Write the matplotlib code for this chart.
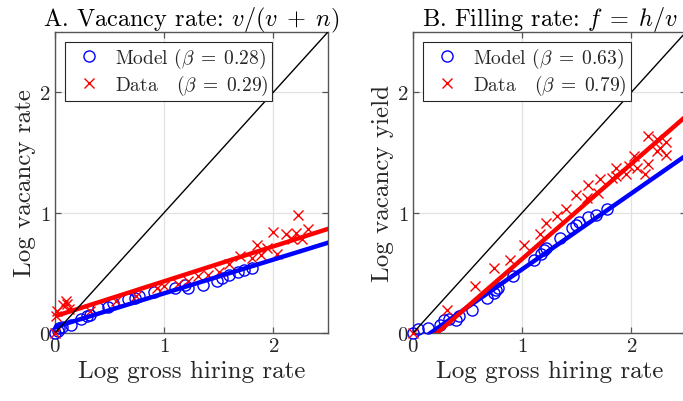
import numpy as np
import matplotlib
matplotlib.use("Agg")
import matplotlib.pyplot as plt

plt.rcParams.update({
    "font.family": "serif",
    "font.serif": ["cmr10"],
    "mathtext.fontset": "cm",
    "axes.formatter.use_mathtext": True,
    "axes.unicode_minus": False,
})

# Panel A: vacancy rate
xA_model = [0.00, 0.03, 0.04, 0.06, 0.15, 0.24, 0.29, 0.32, 0.39, 0.49, 0.53,
            0.67, 0.73, 0.77, 0.91, 1.10, 1.19, 1.22, 1.36, 1.48, 1.53, 1.59,
            1.68, 1.73, 1.80]
yA_model = [0.00, 0.02, 0.04, 0.05, 0.07, 0.12, 0.14, 0.15, 0.21, 0.22, 0.25,
            0.28, 0.29, 0.31, 0.34, 0.37, 0.40, 0.37, 0.40, 0.43, 0.46, 0.48,
            0.51, 0.52, 0.54]
xA_data = [0.00, 0.01, 0.015, 0.07, 0.10, 0.11, 0.13, 0.32, 0.56, 0.74, 0.93,
           1.00, 1.13, 1.22, 1.31, 1.40, 1.50, 1.59, 1.69, 1.80, 1.85, 1.89,
           1.94, 2.00, 2.03, 2.12, 2.17, 2.21, 2.23, 2.26, 2.32]
yA_data = [0.00, 0.14, 0.18, 0.23, 0.27, 0.24, 0.20, 0.18, 0.27, 0.31, 0.37,
           0.39, 0.41, 0.43, 0.47, 0.48, 0.51, 0.57, 0.64, 0.62, 0.73, 0.65,
           0.71, 0.84, 0.66, 0.82, 0.78, 0.83, 0.98, 0.78, 0.86]

# Panel B: filling rate
xB_model = [0.00, 0.05, 0.14, 0.25, 0.28, 0.33, 0.39, 0.42, 0.54, 0.68, 0.74,
            0.76, 0.78, 0.92, 1.11, 1.17, 1.20, 1.22, 1.35, 1.46, 1.49, 1.52,
            1.60, 1.68, 1.78]
yB_model = [0.00, 0.03, 0.04, 0.07, 0.11, 0.12, 0.11, 0.14, 0.19, 0.29, 0.33,
            0.36, 0.37, 0.47, 0.61, 0.66, 0.69, 0.71, 0.79, 0.87, 0.90, 0.92,
            0.96, 0.98, 1.03]
xB_data = [0.00, 0.31, 0.57, 0.74, 0.89, 1.02, 1.16, 1.22, 1.32, 1.40, 1.49,
           1.59, 1.60, 1.69, 1.71, 1.82, 1.86, 1.86, 1.95, 1.98, 2.02, 2.05,
           2.12, 2.15, 2.15, 2.23, 2.23, 2.26, 2.32, 2.32]
yB_data = [0.00, 0.19, 0.39, 0.54, 0.61, 0.73, 0.82, 0.91, 0.97, 1.03, 1.15,
           1.12, 1.23, 1.16, 1.28, 1.29, 1.37, 1.30, 1.32, 1.39, 1.47, 1.37,
           1.32, 1.40, 1.64, 1.61, 1.51, 1.54, 1.59, 1.48]

# Fitted lines: (slope, intercept)
fitA_model = (0.28, 0.05)
fitA_data = (0.29, 0.14)
fitB_model = (0.63, -0.10)
fitB_data = (0.79, -0.174)

panels = [
    dict(title=r"A. Vacancy rate: $v/(v\;+\;n)$", ylabel="Log vacancy rate",
         xm=xA_model, ym=yA_model, xd=xA_data, yd=yA_data,
         fm=fitA_model, fd=fitA_data,
         lab_m=r"Model $(\beta\;=\;0.28)$", lab_d=r"Data   $(\beta\;=\;0.29)$",
         pos=[0.0805, 0.169, 0.3997, 0.749]),
    dict(title=r"B. Filling rate: $f\;=\;h/v$", ylabel="Log vacancy yield",
         xm=xB_model, ym=yB_model, xd=xB_data, yd=yB_data,
         fm=fitB_model, fd=fitB_data,
         lab_m=r"Model $(\beta\;=\;0.63)$", lab_d=r"Data   $(\beta\;=\;0.79)$",
         pos=[0.6047, 0.169, 0.3997, 0.749]),
]

TXT = "#262626"
SPINE = "#555555"
fig = plt.figure(figsize=(6.83, 4.02), dpi=100)

xx = np.array([0.0, 2.5])
for p in panels:
    ax = fig.add_axes(p["pos"])
    ax.set_xlim(0, 2.5)
    ax.set_ylim(0, 2.5)
    ax.grid(True, color="#e2e2e2", linewidth=0.9)
    ax.set_axisbelow(True)

    hm, = ax.plot(p["xm"], p["ym"], linestyle="none", marker="o", ms=8,
                  mfc="none", mec="#0000ff", mew=1.0, clip_on=False, zorder=3)
    hd, = ax.plot(p["xd"], p["yd"], linestyle="none", marker="x", ms=7.5,
                  mec="#ff0000", mew=1.0, clip_on=False, zorder=3)
    ax.plot(xx, p["fm"][0] * xx + p["fm"][1], color="#0000ff", lw=3.2, zorder=4)
    ax.plot(xx, p["fd"][0] * xx + p["fd"][1], color="#ff0000", lw=3.2, zorder=4)
    ax.plot(xx, xx, color="black", lw=1.0, zorder=5)

    ax.set_xticks([0, 1, 2])
    ax.set_yticks([0, 1, 2])
    ax.tick_params(direction="in", length=4, width=0.9, colors=SPINE,
                   labelcolor=TXT, labelsize=15, top=True, right=True, pad=3)
    for s in ax.spines.values():
        s.set_color(SPINE)
        s.set_linewidth(1.0)

    ax.set_title(p["title"], fontsize=17.5, color="black", pad=5)
    ax.set_xlabel("Log gross hiring rate", fontsize=18, color=TXT, labelpad=3)
    ax.set_ylabel(p["ylabel"], fontsize=18, color=TXT, labelpad=2)

    leg = ax.legend([hm, hd], [p["lab_m"], p["lab_d"]], loc="upper left",
                    bbox_to_anchor=(0.035, 0.966), fontsize=14, frameon=True,
                    fancybox=False, edgecolor=TXT, framealpha=1,
                    borderpad=0.2, handletextpad=0.3, handlelength=2.1,
                    labelspacing=0.15, borderaxespad=0)
    leg.get_frame().set_linewidth(0.8)
    for t in leg.get_texts():
        t.set_color(TXT)

fig.savefig("out.png", dpi=100)
